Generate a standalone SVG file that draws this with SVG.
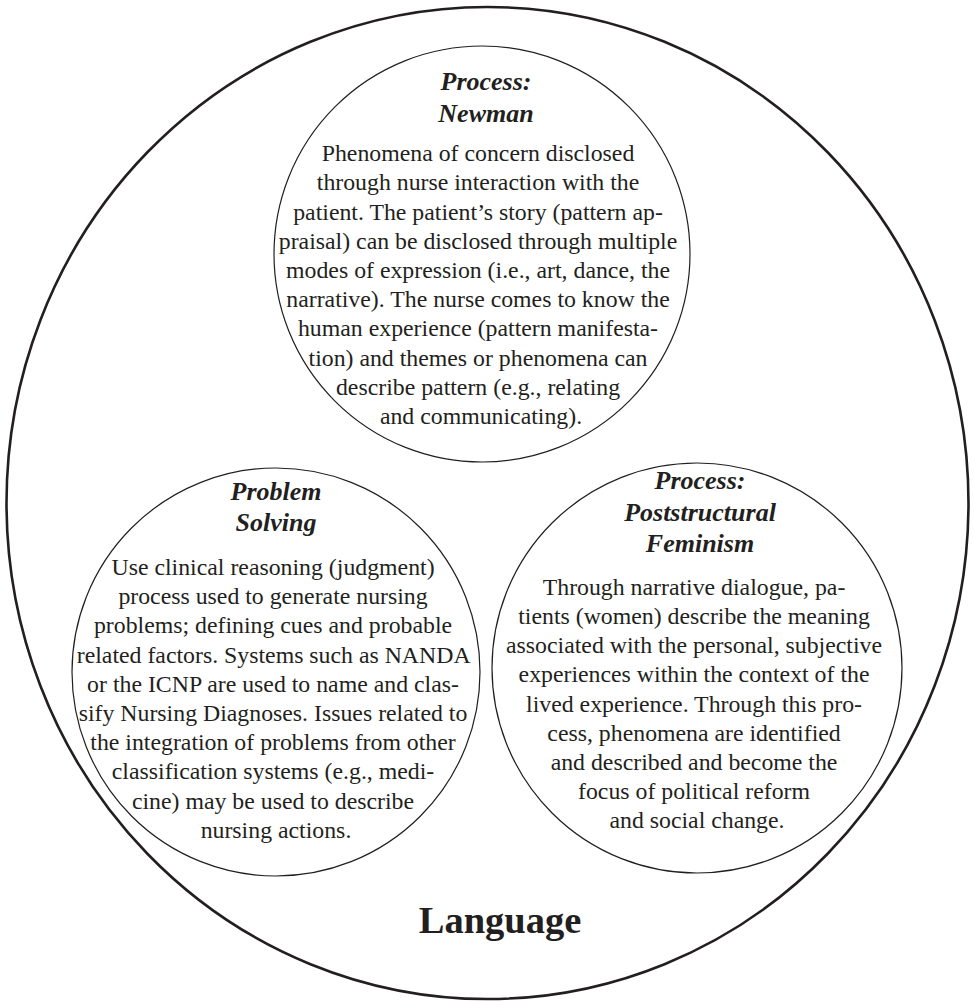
<svg xmlns="http://www.w3.org/2000/svg" width="974" height="1001" viewBox="0 0 974 1001">
  <style>
    .outer { fill: none; stroke: #231f20; stroke-width: 2.6; }
    .ring { fill: none; stroke: #231f20; stroke-width: 1.2; }
    .head { font-family: "Liberation Serif", "Times New Roman", serif; font-weight: bold; font-style: italic; font-size: 26px; fill: #231f20; text-anchor: middle; }
    .body { font-family: "Liberation Serif", "Times New Roman", serif; font-size: 23.8px; fill: #231f20; text-anchor: middle; }
    .title { font-family: "Liberation Serif", "Times New Roman", serif; font-weight: bold; font-size: 38.5px; fill: #231f20; text-anchor: middle; }
  </style>
  <rect width="974" height="1001" fill="#ffffff"/>

  <!-- enclosing language boundary -->
  <g id="language">
    <ellipse class="outer" cx="487.5" cy="503" rx="481" ry="496"/>
    <text class="title" x="500" y="933">Language</text>
  </g>

  <!-- top circle -->
  <g id="newman">
    <circle class="ring" cx="482" cy="254" r="208"/>
    <text class="head" x="486" y="90">Process:</text>
    <text class="head" x="486" y="122">Newman</text>
    <text class="body" x="481">
      <tspan x="481" y="161">Phenomena of concern disclosed</tspan>
      <tspan x="481" y="190">through nurse interaction with the</tspan>
      <tspan x="481" y="220">patient. The patient’s story (pattern ap-</tspan>
      <tspan x="481" y="249">praisal) can be disclosed through multiple</tspan>
      <tspan x="481" y="278">modes of expression (i.e., art, dance, the</tspan>
      <tspan x="481" y="307">narrative). The nurse comes to know the</tspan>
      <tspan x="481" y="336">human experience (pattern manifesta-</tspan>
      <tspan x="481" y="366">tion) and themes or phenomena can</tspan>
      <tspan x="481" y="395">describe pattern (e.g., relating</tspan>
      <tspan x="481" y="424">and communicating).</tspan>
    </text>
  </g>

  <!-- lower left circle -->
  <g id="problem-solving">
    <circle class="ring" cx="276" cy="672" r="204"/>
    <text class="head" x="276" y="500">Problem</text>
    <text class="head" x="276" y="531">Solving</text>
    <text class="body" x="276">
      <tspan x="276" y="575">Use clinical reasoning (judgment)</tspan>
      <tspan x="276" y="604">process used to generate nursing</tspan>
      <tspan x="276" y="633">problems; defining cues and probable</tspan>
      <tspan x="276" y="663">related factors. Systems such as NANDA</tspan>
      <tspan x="276" y="692">or the ICNP are used to name and clas-</tspan>
      <tspan x="276" y="721">sify Nursing Diagnoses. Issues related to</tspan>
      <tspan x="276" y="750">the integration of problems from other</tspan>
      <tspan x="276" y="779">classification systems (e.g., medi-</tspan>
      <tspan x="276" y="809">cine) may be used to describe</tspan>
      <tspan x="276" y="838">nursing actions.</tspan>
    </text>
  </g>

  <!-- lower right circle -->
  <g id="poststructural-feminism">
    <circle class="ring" cx="697" cy="668" r="205"/>
    <text class="head" x="700" y="489">Process:</text>
    <text class="head" x="700" y="521">Poststructural</text>
    <text class="head" x="700" y="552">Feminism</text>
    <text class="body" x="697">
      <tspan x="697" y="595">Through narrative dialogue, pa-</tspan>
      <tspan x="697" y="624">tients (women) describe the meaning</tspan>
      <tspan x="697" y="653">associated with the personal, subjective</tspan>
      <tspan x="697" y="682">experiences within the context of the</tspan>
      <tspan x="697" y="712">lived experience. Through this pro-</tspan>
      <tspan x="697" y="741">cess, phenomena are identified</tspan>
      <tspan x="697" y="770">and described and become the</tspan>
      <tspan x="697" y="799">focus of political reform</tspan>
      <tspan x="697" y="828">and social change.</tspan>
    </text>
  </g>
</svg>
